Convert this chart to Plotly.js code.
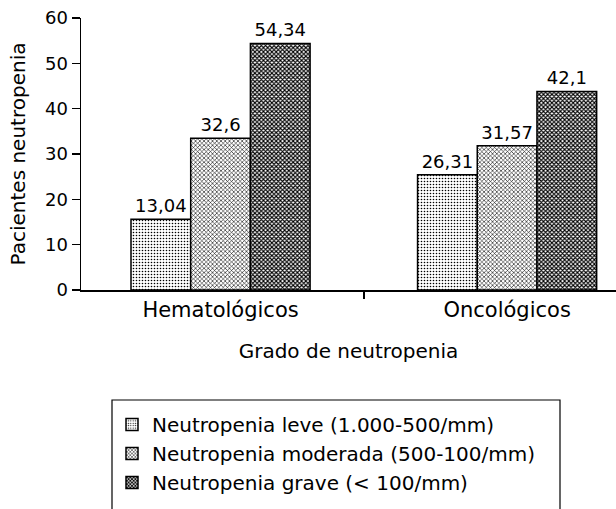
<!DOCTYPE html>
<html>
<head>
<meta charset="utf-8">
<script src="https://cdn.plot.ly/plotly-3.0.1.min.js"></script>
<style>html,body{margin:0;padding:0;background:#fff;}#chart{width:616px;height:509px;}</style>
</head>
<body>
<div id="chart"></div>
<script>
var categories = ["Hematológicos", "Oncológicos"];
var seriesNames = ["Neutropenia leve (1.000-500/mm)", "Neutropenia moderada (500-100/mm)", "Neutropenia grave (< 100/mm)"];
// bar heights as drawn
var leve = [15.6, 25.4];
var moderada = [33.5, 31.8];
var grave = [54.4, 43.8];
// printed value labels
var leveLabels = ["13,04", "26,31"];
var moderadaLabels = ["32,6", "31,57"];
var graveLabels = ["54,34", "42,1"];
var yTicks = [0, 10, 20, 30, 40, 50, 60];

var FONT = "DejaVu Sans, Liberation Sans, Arial, sans-serif";
function mk(name, y, labels, shape, size, solidity, grp) {
  return {
    type: "bar", name: name, x: categories, y: y, legendgroup: grp,
    text: labels, textposition: "outside", constraintext: "none", cliponaxis: false,
    textfont: {family: FONT, size: 18, color: "#000"},
    hoverinfo: "none",
    marker: {
      color: "#fff",
      line: {color: "#000", width: 1.5},
      pattern: {shape: shape, size: size, solidity: solidity, fgcolor: "#000", bgcolor: "#fff", fillmode: "replace"}
    }
  };
}
var data = [
  mk(seriesNames[0], leve, leveLabels, ".", 3, 0.22, "a"),
  mk(seriesNames[1], moderada, moderadaLabels, "x", 3, 0.35, "b"),
  mk(seriesNames[2], grave, graveLabels, "x", 3, 0.6, "c")
];
var layout = {
  width: 616, height: 509,
  margin: {l: 81, r: 0, t: 18, b: 219},
  paper_bgcolor: "#fff", plot_bgcolor: "#fff",
  font: {family: FONT, size: 18, color: "#000"},
  barmode: "group", bargap: 0.375, bargroupgap: 0,
  showlegend: true,
  legend: {
    x: (112 - 81) / 535, y: (290 - 405) / 272, xanchor: "left", yanchor: "top",
    xref: "paper", yref: "paper",
    bgcolor: "rgba(0,0,0,0)", borderwidth: 0,
    font: {family: FONT, size: 20, color: "#000"},
    traceorder: "normal", tracegroupgap: 4, itemclick: false
  },
  xaxis: {
    type: "category", range: [-0.487, 1.38],
    showline: true, linecolor: "#000", linewidth: 1.5,
    ticks: "outside", tickson: "boundaries", ticklen: 7, tickcolor: "#000", tickwidth: 1.5,
    showgrid: false, zeroline: false,
    tickfont: {family: FONT, size: 21, color: "#000"},
    title: {text: "Grado de neutropenia", font: {family: FONT, size: 20, color: "#000"}, standoff: 23}
  },
  yaxis: {
    range: [0, 60], tickvals: yTicks,
    showline: true, linecolor: "#000", linewidth: 1.5,
    ticks: "outside", ticklen: 8, tickcolor: "#000", tickwidth: 1.5,
    showgrid: false, zeroline: false,
    tickfont: {family: FONT, size: 18, color: "#000"},
    title: {text: "Pacientes neutropenia", font: {family: FONT, size: 20, color: "#000"}, standoff: 14}
  },
  shapes: [{
    type: "rect", xref: "paper", yref: "paper",
    x0: (112 - 81) / 535, x1: (560 - 81) / 535,
    y0: (290 - 530) / 272, y1: (290 - 400) / 272,
    line: {color: "#000", width: 1.2}, fillcolor: "rgba(0,0,0,0)"
  }]
};
Plotly.newPlot("chart", data, layout, {displayModeBar: false, staticPlot: true});
</script>
</body>
</html>
